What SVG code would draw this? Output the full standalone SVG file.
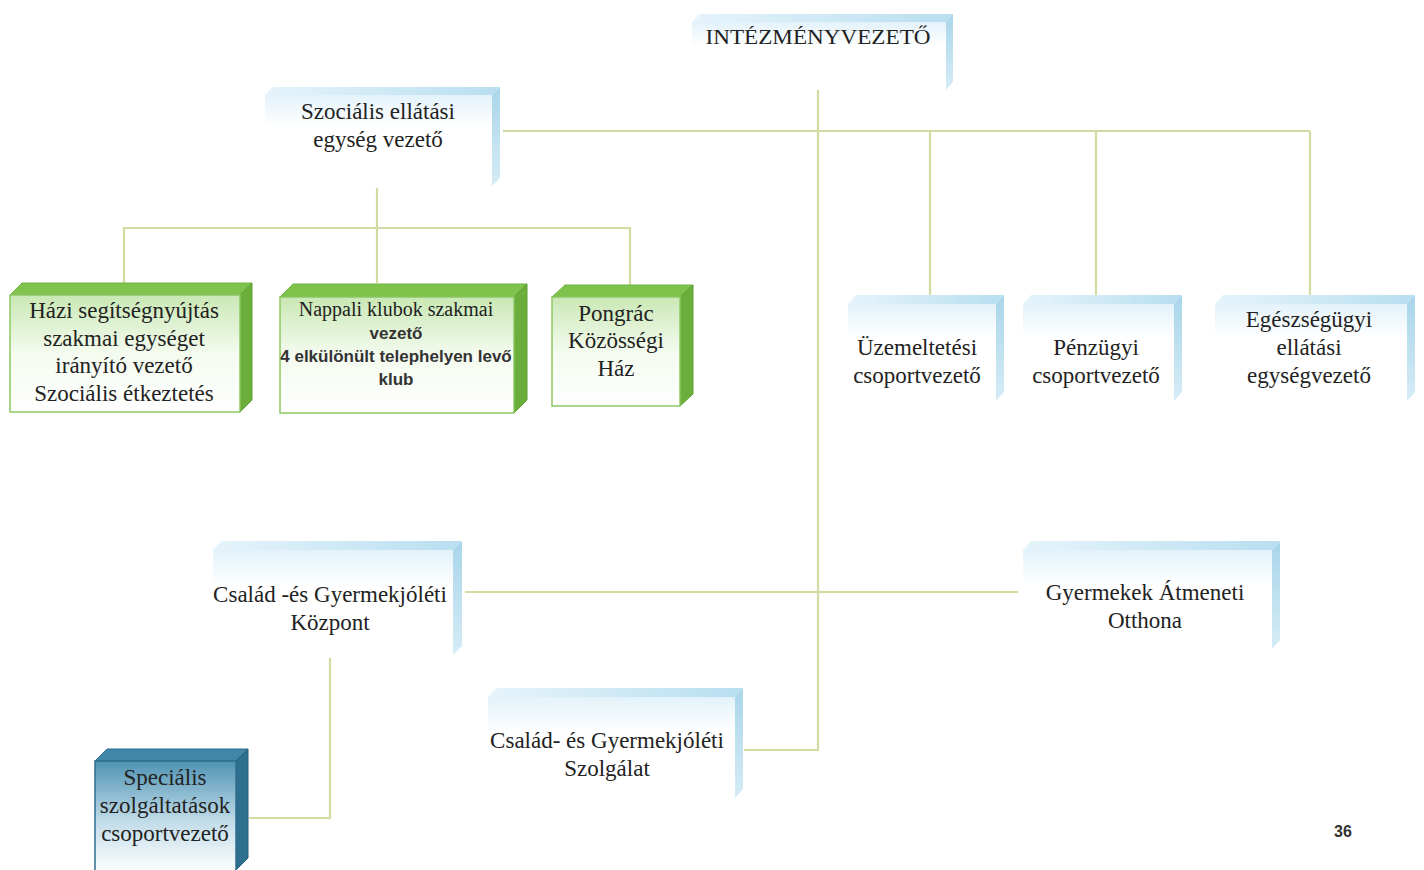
<svg xmlns="http://www.w3.org/2000/svg" width="1424" height="870" viewBox="0 0 1424 870">
<defs>
<linearGradient id="gFront" x1="0" y1="0" x2="0" y2="1">
<stop offset="0" stop-color="#c9e8b4"/><stop offset="0.5" stop-color="#f4fbef"/><stop offset="1" stop-color="#ffffff"/>
</linearGradient>
<linearGradient id="bFront" x1="0" y1="0" x2="0" y2="1">
<stop offset="0" stop-color="#e3f2fa"/><stop offset="0.35" stop-color="#ffffff"/><stop offset="1" stop-color="#ffffff"/>
</linearGradient>
<linearGradient id="bTop" x1="0" y1="0" x2="1" y2="0">
<stop offset="0" stop-color="#e6f4fb"/><stop offset="1" stop-color="#b8def0"/>
</linearGradient>
<linearGradient id="bSide" x1="0" y1="0" x2="0" y2="1">
<stop offset="0" stop-color="#a9d5ea"/><stop offset="1" stop-color="#d5ecf6"/>
</linearGradient>
<linearGradient id="dFront" x1="0" y1="0" x2="0" y2="1">
<stop offset="0" stop-color="#4f93b4"/><stop offset="0.55" stop-color="#c3dde9"/><stop offset="1" stop-color="#ffffff"/>
</linearGradient>
</defs>
<style>
.conn{stroke:#d5daa2;stroke-width:2.2;fill:none}
.gf{fill:url(#gFront);stroke:#8cc863;stroke-width:1.5}
.gt{fill:#7fc24c;stroke:#6fb33e;stroke-width:1}
.gs{fill:#6cae3c;stroke:#5e9e33;stroke-width:1}
.bf{fill:url(#bFront)}
.bt{fill:url(#bTop)}
.bs{fill:url(#bSide)}
.df{fill:url(#dFront);stroke:#2f6f8e;stroke-width:1.5}
.dt{fill:#3f86a8;stroke:#2f6f8e;stroke-width:1}
.ds{fill:#2e6f90;stroke:#245d78;stroke-width:1}
.t{font-family:"Liberation Serif","Times New Roman",serif;font-size:23px;fill:#222;text-anchor:middle}
.ts{font-family:"Liberation Sans",Arial,sans-serif;font-size:17px;font-weight:bold;fill:#333;text-anchor:middle}
</style>
<rect width="1424" height="870" fill="#ffffff"/>
<g id="connectors">
<path class="conn" d="M818 89 V750 H744"/>
<path class="conn" d="M503 131 H1310"/>
<path class="conn" d="M930 131 V295 M1096 131 V295 M1310 131 V295"/>
<path class="conn" d="M377 188 V228 M124 283 V228 H630 V285 M377 228 V283"/>
<path class="conn" d="M465 592 H1018"/>
<path class="conn" d="M330 658 V818 H249"/>
</g>
<g id="intezmenyvezeto">
<polygon class="bt" points="692,22 700,14 953,14 946,22"/>
<polygon class="bs" points="946,22 953,14 953,82 946,90"/>
<rect class="bf" x="692" y="22" width="254" height="68"/>
<text class="t" x="818" y="44" style="font-size:20px" textLength="225" lengthAdjust="spacingAndGlyphs">INTÉZMÉNYVEZETŐ</text>
</g>
<g id="szocialis">
<polygon class="bt" points="265,95 273,87 500,87 492,95"/>
<polygon class="bs" points="492,95 500,87 500,178 492,186"/>
<rect class="bf" x="265" y="95" width="227" height="91"/>
<text class="t" x="378" y="119">Szociális ellátási</text>
<text class="t" x="378" y="147">egység vezető</text>
</g>
<g id="hazi">
<polygon class="gt" points="10,295 22,283 252,283 240,295"/>
<polygon class="gs" points="240,295 252,283 252,400 240,412"/>
<rect class="gf" x="10" y="295" width="230" height="117"/>
<text class="t" x="124" y="318">Házi segítségnyújtás</text>
<text class="t" x="124" y="346">szakmai egységet</text>
<text class="t" x="124" y="373">irányító vezető</text>
<text class="t" x="124" y="401">Szociális étkeztetés</text>
</g>
<g id="nappali">
<polygon class="gt" points="280,297 293,284 527,284 514,297"/>
<polygon class="gs" points="514,297 527,284 527,400 514,413"/>
<rect class="gf" x="280" y="297" width="234" height="116"/>
<text class="t" x="396" y="316" style="font-size:20px">Nappali klubok szakmai</text>
<text class="ts" x="396" y="339">vezető</text>
<text class="ts" x="396" y="362">4 elkülönült telephelyen levő</text>
<text class="ts" x="396" y="385">klub</text>
</g>
<g id="pongrac">
<polygon class="gt" points="552,297 565,285 693,285 680,297"/>
<polygon class="gs" points="680,297 693,285 693,394 680,406"/>
<rect class="gf" x="552" y="297" width="128" height="109"/>
<text class="t" x="616" y="321">Pongrác</text>
<text class="t" x="616" y="348">Közösségi</text>
<text class="t" x="616" y="376">Ház</text>
</g>
<g id="uzemeltetesi">
<polygon class="bt" points="848,304 856,295 1004,295 996,304"/>
<polygon class="bs" points="996,304 1004,295 1004,392 996,401"/>
<rect class="bf" x="848" y="304" width="148" height="97"/>
<text class="t" x="917" y="355">Üzemeltetési</text>
<text class="t" x="917" y="383">csoportvezető</text>
</g>
<g id="penzugyi">
<polygon class="bt" points="1023,304 1031,295 1182,295 1174,304"/>
<polygon class="bs" points="1174,304 1182,295 1182,392 1174,401"/>
<rect class="bf" x="1023" y="304" width="151" height="97"/>
<text class="t" x="1096" y="355">Pénzügyi</text>
<text class="t" x="1096" y="383">csoportvezető</text>
</g>
<g id="egeszsegugyi">
<polygon class="bt" points="1215,304 1223,295 1415,295 1407,304"/>
<polygon class="bs" points="1407,304 1415,295 1415,392 1407,401"/>
<rect class="bf" x="1215" y="304" width="192" height="97"/>
<text class="t" x="1309" y="327">Egészségügyi</text>
<text class="t" x="1309" y="355">ellátási</text>
<text class="t" x="1309" y="383">egységvezető</text>
</g>
<g id="kozpont">
<polygon class="bt" points="213,550 222,541 462,541 453,550"/>
<polygon class="bs" points="453,550 462,541 462,646 453,655"/>
<rect class="bf" x="213" y="550" width="240" height="105"/>
<text class="t" x="330" y="602">Család -és Gyermekjóléti</text>
<text class="t" x="330" y="630">Központ</text>
</g>
<g id="atmeneti">
<polygon class="bt" points="1023,550 1031,541 1280,541 1272,550"/>
<polygon class="bs" points="1272,550 1280,541 1280,640 1272,649"/>
<rect class="bf" x="1023" y="550" width="249" height="99"/>
<text class="t" x="1145" y="600">Gyermekek Átmeneti</text>
<text class="t" x="1145" y="628">Otthona</text>
</g>
<g id="szolgalat">
<polygon class="bt" points="488,697 496,688 743,688 735,697"/>
<polygon class="bs" points="735,697 743,688 743,789 735,798"/>
<rect class="bf" x="488" y="697" width="247" height="101"/>
<text class="t" x="607" y="748">Család- és Gyermekjóléti</text>
<text class="t" x="607" y="776">Szolgálat</text>
</g>
<g id="specialis">
<polygon class="dt" points="95,761 107,749 248,749 236,761"/>
<polygon class="ds" points="236,761 248,749 248,858 236,870"/>
<rect class="df" x="95" y="761" width="141" height="112"/>
<text class="t" x="165" y="785">Speciális</text>
<text class="t" x="165" y="813">szolgáltatások</text>
<text class="t" x="165" y="841">csoportvezető</text>
</g>
<text x="1343" y="837" font-family="Liberation Sans,Arial,sans-serif" font-size="16" font-weight="bold" fill="#333" text-anchor="middle">36</text>
</svg>
